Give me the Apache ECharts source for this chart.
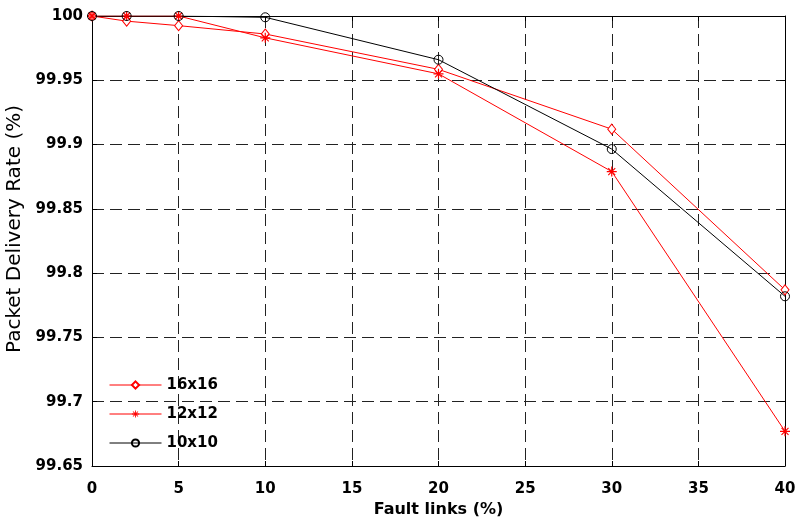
<!DOCTYPE html>
<html>
<head>
<meta charset="utf-8">
<script src="https://cdn.jsdelivr.net/npm/echarts@6/dist/echarts.min.js"></script>
<style>
html,body{margin:0;padding:0;background:#fff;}
#main{width:795px;height:525px;}
</style>
</head>
<body>
<div id="main"></div>
<script>
var faultLinks = [0, 2, 5, 10, 20, 30, 40];
var names = ['16x16', '12x12', '10x10'];
var pdr16 = [100, 99.996, 99.9925, 99.986, 99.9585, 99.912, 99.787];
var pdr12 = [100, 100, 100, 99.983, 99.955, 99.879, 99.677];
var pdr10 = [100, 100, 100, 99.999, 99.966, 99.8965, 99.782];

function pairs(ys) { return faultLinks.map(function (x, i) { return [x, ys[i]]; }); }

var starPath = 'path://M-5,-0.6L5,-0.6L5,0.6L-5,0.6Z M-0.6,-5L0.6,-5L0.6,5L-0.6,5Z M-3.9,-3.1L-3.1,-3.9L3.9,3.1L3.1,3.9Z M3.1,-3.9L3.9,-3.1L-3.1,3.9L-3.9,3.1Z';
var FONT = 'DejaVu Sans, Liberation Sans, Arial';
var gridLine = { show: true, lineStyle: { color: '#222', type: [12, 6], width: 1 } };

var chart = echarts.init(document.getElementById('main'));
chart.setOption({
  animation: false,
  backgroundColor: '#fff',
  grid: { left: 92, right: 10, top: 16, bottom: 59, containLabel: false, outerBoundsMode: 'none' },
  legend: {
    left: 109, top: 377, orient: 'vertical', padding: 0,
    itemWidth: 52, itemHeight: 9, itemGap: 13,
    data: names,
    lineStyle: { width: 1 },
    textStyle: { fontFamily: FONT, fontWeight: 'bold', fontSize: 15, lineHeight: 16, color: '#000' }
  },
  xAxis: [{
    type: 'value', min: 0, max: 40, interval: 5,
    name: 'Fault links (%)', nameLocation: 'middle', nameGap: 22,
    nameTextStyle: { fontFamily: FONT, fontWeight: 'bold', fontSize: 16, color: '#000' },
    axisLine: { show: true, onZero: false, lineStyle: { color: '#000', width: 1 } },
    axisTick: { show: true, inside: true, length: 5, lineStyle: { color: '#000' } },
    axisLabel: { margin: 16, fontFamily: FONT, fontWeight: 'bold', fontSize: 15, color: '#000' },
    splitLine: gridLine
  }, {
    type: 'value', min: 0, max: 40, interval: 5, position: 'top',
    axisLine: { show: true, onZero: false, lineStyle: { color: '#000', width: 1 } },
    axisTick: { show: true, inside: true, length: 5, lineStyle: { color: '#000' } },
    axisLabel: { show: false }, splitLine: { show: false }
  }],
  yAxis: [{
    type: 'value', min: 99.65, max: 100, interval: 0.05,
    name: 'Packet Delivery Rate (%)', nameLocation: 'middle', nameGap: 54,
    nameTextStyle: { fontFamily: FONT, fontSize: 20, color: '#000', padding: [0, 0, 0, 24] },
    axisLine: { show: true, onZero: false, lineStyle: { color: '#000', width: 1 } },
    axisTick: { show: true, inside: true, length: 5, lineStyle: { color: '#000' } },
    axisLabel: {
      margin: 9, fontFamily: FONT, fontWeight: 'bold', fontSize: 15, color: '#000',
      padding: [7, 0, 0, 0],
      formatter: function (v) { return String(+v.toFixed(2)); }
    },
    splitLine: gridLine
  }, {
    type: 'value', min: 99.65, max: 100, interval: 0.05, position: 'right',
    axisLine: { show: true, onZero: false, lineStyle: { color: '#000', width: 1 } },
    axisTick: { show: true, inside: true, length: 5, lineStyle: { color: '#000' } },
    axisLabel: { show: false }, splitLine: { show: false }
  }],
  series: [{
    name: names[0], type: 'line', data: pairs(pdr16),
    symbol: 'diamond', symbolSize: [8, 10], showAllSymbol: true,
    lineStyle: { color: '#ff0000', width: 1 },
    itemStyle: { color: '#fff', borderColor: '#ff0000', borderWidth: 1 },
    color: '#ff0000'
  }, {
    name: names[1], type: 'line', data: pairs(pdr12),
    symbol: starPath, symbolSize: 10, showAllSymbol: true,
    lineStyle: { color: '#ff0000', width: 1 },
    itemStyle: { color: '#ff0000', borderWidth: 0 },
    color: '#ff0000'
  }, {
    name: names[2], type: 'line', data: pairs(pdr10),
    symbol: 'circle', symbolSize: 9, showAllSymbol: true,
    lineStyle: { color: '#000', width: 1 },
    itemStyle: { color: 'rgba(255,255,255,0)', borderColor: '#000', borderWidth: 1 },
    color: '#000'
  }]
});
</script>
</body>
</html>
